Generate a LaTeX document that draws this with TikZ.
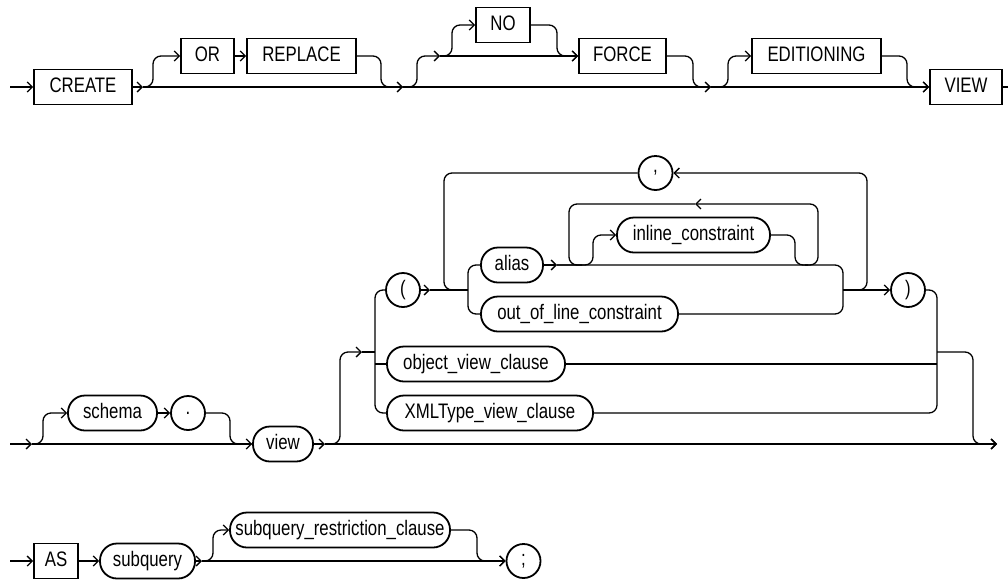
\documentclass[tikz,border=0pt]{standalone}
\usepackage{fontspec}
\setmainfont{Liberation Sans}[FakeStretch=0.8]
\usepackage{tikz}
\usetikzlibrary{arrows.meta}

\begin{document}
\begin{tikzpicture}[x=1pt,y=-1pt,
  every node/.style={font=\fontsize{21}{25}\selectfont},
  kw/.style={draw,line width=1.8pt,rectangle,minimum height=35pt,inner sep=0pt,text height=14.5pt,text depth=3pt},
  nt/.style={kw,rounded corners=17pt},
  pun/.style={draw,line width=1.8pt,circle,minimum size=34pt,inner sep=0pt},
  rail/.style={line width=1.3pt,rounded corners=8pt},
  >={Straight Barb[length=5pt,width=10pt]}]
  \useasboundingbox (0,0) rectangle (1008,579);

  % CREATE [OR REPLACE] [[NO] FORCE] [EDITIONING] VIEW
  \node[kw,minimum width=98pt] (create) at (83,87) {CREATE};
  \node[kw,minimum width=53pt] (or) at (207.5,56) {OR};
  \node[kw,minimum width=109pt] (replace) at (301.5,56) {REPLACE};
  \node[kw,minimum width=54pt] (no) at (503,25) {NO};
  \node[kw,minimum width=87pt] (force) at (622.5,56) {FORCE};
  \node[kw,minimum width=129pt] (edit) at (816.5,56) {EDITIONING};
  \node[kw,minimum width=72pt] (viewkw) at (966,87) {VIEW};
  \coordinate (in1) at (10,87);
  \coordinate (j1) at (143,87);
  \coordinate (j2) at (403,87);
  \coordinate (j3) at (440,56);
  \coordinate (j4) at (711,87);
  \coordinate (out1) at (1008,87);
  \draw[rail,->] (in1) -- (create.west);
  \draw[rail,->] (create.east) -- (j1);
  \draw[rail,->] (j1) -- (j2);
  \draw[rail,->] (j2) -- (j4);
  \draw[rail,->] (j4) -- (viewkw.west);
  \draw[rail] (viewkw.east) -- (out1);
  \draw[rail,->] (j1) -- (153,87) -- (153,56) -- (or.west);
  \draw[rail,->] (or) -- (replace);
  \draw[rail] (replace.east) -- (381,56) -- (381,87) -- (j2);
  \draw[rail,->] (j2) -- (417,87) -- (417,56) -- (j3);
  \draw[rail,->] (j3) -- (force.west);
  \draw[rail,->] (j3) -- (452,56) -- (452,25) -- (no.west);
  \draw[rail,->] (no.east) -- (557,25) -- (557,56) -- (force.west);
  \draw[rail] (force.east) -- (693,56) -- (693,87) -- (j4);
  \draw[rail,->] (j4) -- (728,87) -- (728,56) -- (edit.west);
  \draw[rail,->] (edit.east) -- (907,56) -- (907,87) -- (viewkw.west);

  % [schema .] view [( ... ) | object_view_clause | XMLType_view_clause]
  \node[nt,minimum width=89pt] (schema) at (112.5,413) {schema};
  \node[pun] (dot) at (188,413) {.};
  \node[nt,minimum width=60pt] (view) at (283,444) {view};
  \node[pun] (lpar) at (403,290) {(};
  \node[nt,minimum width=62pt] (alias) at (512,265) {alias};
  \node[nt,minimum width=153pt] (inline) at (693.5,235) {inline\_constraint};
  \node[nt,minimum width=197pt] (ool) at (579.5,314) {out\_of\_line\_constraint};
  \node[pun] (comma) at (655.5,173) {,};
  \node[pun] (rpar) at (908,290) {)};
  \node[nt,minimum width=178pt] (object) at (476,364) {object\_view\_clause};
  \node[nt,minimum width=206pt] (xmltype) at (490,413) {XMLType\_view\_clause};
  \coordinate (in2) at (10,444);
  \coordinate (j5) at (32,444);
  \coordinate (j6) at (325,444);
  \coordinate (out2) at (997,444);
  \coordinate (e1) at (362,352);
  \coordinate (jl) at (430,290);
  \coordinate (ja) at (557,265);
  \coordinate (jr) at (843,290);
  \coordinate (jc) at (855,290);
  \coordinate (jo) at (937,352);
  \draw[rail,->] (in2) -- (j5);
  \draw[rail,->] (j5) -- (view.west);
  \draw[rail,->] (j5) -- (43,444) -- (43,413) -- (schema.west);
  \draw[rail,->] (schema) -- (dot);
  \draw[rail] (dot.east) -- (230,413) -- (230,444) -- (view.west);
  \draw[rail,->] (view.east) -- (j6);
  \draw[rail,->] (j6) -- (out2);
  \draw[rail,->] (j6) -- (340,444) -- (340,352) -- (e1);
  \draw[rail] (e1) -- (375,352);
  \draw[rail] (lpar.west) -- (375,290) -- (375,413) -- (xmltype.west);
  \draw[rail] (375,364) -- (object.west);
  \draw[rail,->] (lpar.east) -- (jl);
  \draw[rail] (jl) -- (468,290);
  \draw[rail] (alias.west) -- (468,265) -- (468,314) -- (ool.west);
  \draw[rail,->] (alias.east) -- (ja);
  \draw[rail] (ja) -- (843,265) -- (843,314) -- (ool.east);
  \draw[rail,->] (ja) -- (593,265) -- (593,235) -- (inline.west);
  \draw[rail] (inline.east) -- (795,235) -- (795,265) -- (808,265);
  \draw[rail,->] (805,265) -- (818,265) -- (818,204) -- (695,204);
  \draw[rail] (695,204) -- (569,204) -- (569,265) -- (582,265);
  \draw[rail,->] (jr) -- (rpar.west);
  \draw[rail,->] (jc) -- (867,290) -- (867,173) -- (comma.east);
  \draw[rail] (comma.west) -- (444,173) -- (444,290) -- (456,290);
  \draw[rail] (rpar.east) -- (937,290) -- (937,413) -- (xmltype.east);
  \draw[rail] (object.east) -- (937,364);
  \draw[rail,->] (jo) -- (973,352) -- (973,444) -- (out2);

  % AS subquery [subquery_restriction_clause] ;
  \node[kw,minimum width=44pt] (as) at (56,561) {AS};
  \node[nt,minimum width=95pt] (subq) at (147.5,561) {subquery};
  \node[nt,minimum width=220pt] (restr) at (340,530) {subquery\_restriction\_clause};
  \node[pun] (semi) at (523.5,561) {;};
  \coordinate (in3) at (10,561);
  \coordinate (j7) at (202,561);
  \draw[rail,->] (in3) -- (as.west);
  \draw[rail,->] (as) -- (subq);
  \draw[rail,->] (subq.east) -- (j7);
  \draw[rail,->] (j7) -- (semi.west);
  \draw[rail,->] (j7) -- (213,561) -- (213,530) -- (restr.west);
  \draw[rail,->] (restr.east) -- (477,530) -- (477,561) -- (semi.west);
\end{tikzpicture}
\end{document}
